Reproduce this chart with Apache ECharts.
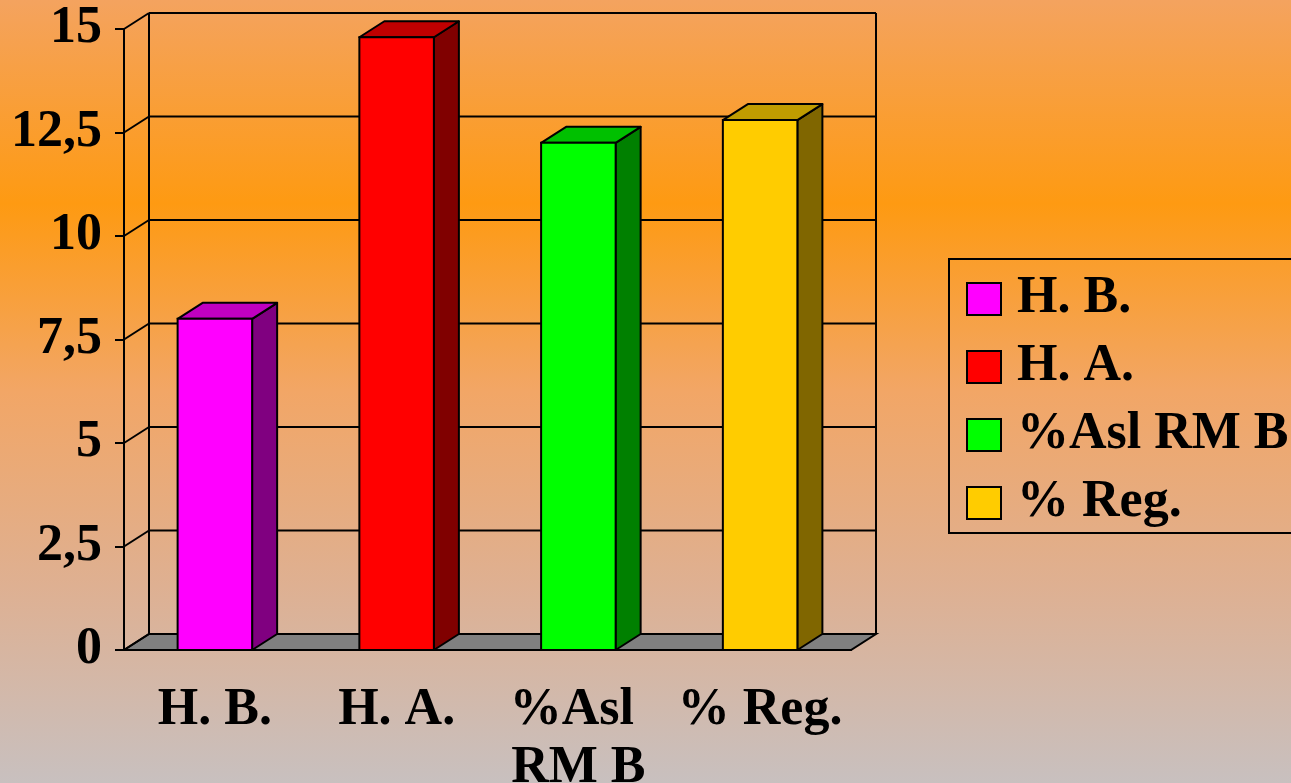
<!DOCTYPE html>
<html>
<head>
<meta charset="utf-8">
<script src="https://cdn.jsdelivr.net/npm/echarts@6/dist/echarts.min.js"></script>
<style>
  html, body { margin: 0; padding: 0; }
  #chart { width: 1291px; height: 783px; }
</style>
</head>
<body>
<div id="chart"></div>
<script>
const categories = ['H. B.', 'H. A.', '%Asl RM B', '% Reg.'];
const values = [8.0, 14.8, 12.25, 12.8];
const yTicks = [0, 2.5, 5, 7.5, 10, 12.5, 15];

// front / top / side shades for each bar
const faceColors = ['#ff00ff', '#ff0000', '#00ff00', '#ffcc00'];
const topColors = ['#c000c0', '#c00000', '#00c000', '#c09c00'];
const sideColors = ['#800080', '#800000', '#008000', '#806600'];

const DX = 25, DY = -16; // 3d depth offset
const FONT = "'Liberation Serif', 'Times New Roman', serif";
const LINE = { stroke: '#000', lineWidth: 2 };

const chart = echarts.init(document.getElementById('chart'));

function renderWalls(params, api) {
  const cs = params.coordSys;
  const x0 = cs.x, x1 = cs.x + cs.width;
  const y = api.coord([0, api.value(1)])[1];
  const children = [];
  if (api.value(1) === 0) {
    const yTop = api.coord([0, yTicks[yTicks.length - 1]])[1];
    children.push({
      type: 'polygon',
      shape: { points: [[x0, y], [x1, y], [x1 + DX, y + DY], [x0 + DX, y + DY]] },
      style: { fill: '#808080', stroke: '#000', lineWidth: 2 }
    });
    children.push({ type: 'line', shape: { x1: x0 + DX, y1: yTop + DY, x2: x0 + DX, y2: y + DY }, style: LINE });
    children.push({ type: 'line', shape: { x1: x1 + DX, y1: yTop + DY, x2: x1 + DX, y2: y + DY }, style: LINE });
  }
  children.push({ type: 'line', shape: { x1: x0 + DX, y1: y + DY, x2: x1 + DX, y2: y + DY }, style: LINE });
  children.push({ type: 'line', shape: { x1: x0, y1: y, x2: x0 + DX, y2: y + DY }, style: LINE });
  return { type: 'group', children };
}

function renderBar(i) {
  return function (params, api) {
    const p = api.coord([api.value(0), api.value(1)]);
    const b = api.coord([api.value(0), 0]);
    const w = api.size([1, 0])[0] * 0.41;
    const xl = p[0] - w / 2, xr = p[0] + w / 2, yt = p[1], yb = b[1];
    return {
      type: 'group',
      children: [
        { type: 'polygon', shape: { points: [[xr, yt], [xr + DX, yt + DY], [xr + DX, yb + DY], [xr, yb]] },
          style: { fill: sideColors[i], stroke: '#000', lineWidth: 2, lineJoin: 'round' } },
        { type: 'polygon', shape: { points: [[xl, yt], [xr, yt], [xr + DX, yt + DY], [xl + DX, yt + DY]] },
          style: { fill: topColors[i], stroke: '#000', lineWidth: 2, lineJoin: 'round' } },
        { type: 'rect', shape: { x: xl, y: yt, width: w, height: yb - yt },
          style: { fill: faceColors[i], stroke: '#000', lineWidth: 2 } }
      ]
    };
  };
}

const series = [{
  type: 'custom',
  name: 'walls',
  z: 1,
  clip: false,
  silent: true,
  data: yTicks.map(v => [0, v]),
  encode: { x: 0, y: 1 },
  renderItem: renderWalls
}];
categories.forEach((c, i) => {
  series.push({
    type: 'custom',
    name: c,
    z: 2,
    clip: false,
    itemStyle: { color: faceColors[i] },
    data: [[i, values[i]]],
    encode: { x: 0, y: 1 },
    renderItem: renderBar(i)
  });
});

chart.setOption({
  animation: false,
  backgroundColor: {
    type: 'linear', x: 0, y: 0, x2: 0, y2: 1,
    colorStops: [
      { offset: 0, color: '#f4a35f' },
      { offset: 0.26, color: '#fe9a12' },
      { offset: 0.5, color: '#f2a666' },
      { offset: 0.75, color: '#deb092' },
      { offset: 1, color: '#c8c0bf' }
    ]
  },
  grid: { left: 124, top: 29, width: 727, bottom: 133, outerBoundsMode: 'none' },
  legend: {
    data: categories,
    orient: 'vertical',
    left: 949,
    top: 259,
    padding: [14, 20, 4, 17],
    itemGap: 16,
    itemWidth: 34,
    itemHeight: 32,
    icon: 'rect',
    borderColor: '#000',
    borderWidth: 2,
    itemStyle: { borderColor: '#000', borderWidth: 2 },
    textStyle: { fontFamily: FONT, fontWeight: 'bold', fontSize: 52, color: '#000', lineHeight: 52, padding: [0, 0, 0, 11] }
  },
  xAxis: {
    type: 'category',
    data: categories,
    axisLine: { lineStyle: { color: '#000', width: 2 } },
    axisTick: { length: 10, lineStyle: { color: '#000', width: 2 } },
    axisLabel: {
      margin: 32, width: 178, overflow: 'break', interval: 0,
      fontFamily: FONT, fontWeight: 'bold', fontSize: 52, lineHeight: 58, color: '#000'
    },
    splitLine: { show: false }
  },
  yAxis: {
    type: 'value',
    min: 0, max: 15, interval: 2.5,
    axisLine: { show: true, lineStyle: { color: '#000', width: 2 } },
    axisTick: { show: true, length: 9, lineStyle: { color: '#000', width: 2 } },
    axisLabel: {
      margin: 22, fontFamily: FONT, fontWeight: 'bold', fontSize: 52, color: '#000',
      formatter: v => String(v).replace('.', ',')
    },
    splitLine: { show: false }
  },
  series
});
</script>
</body>
</html>
